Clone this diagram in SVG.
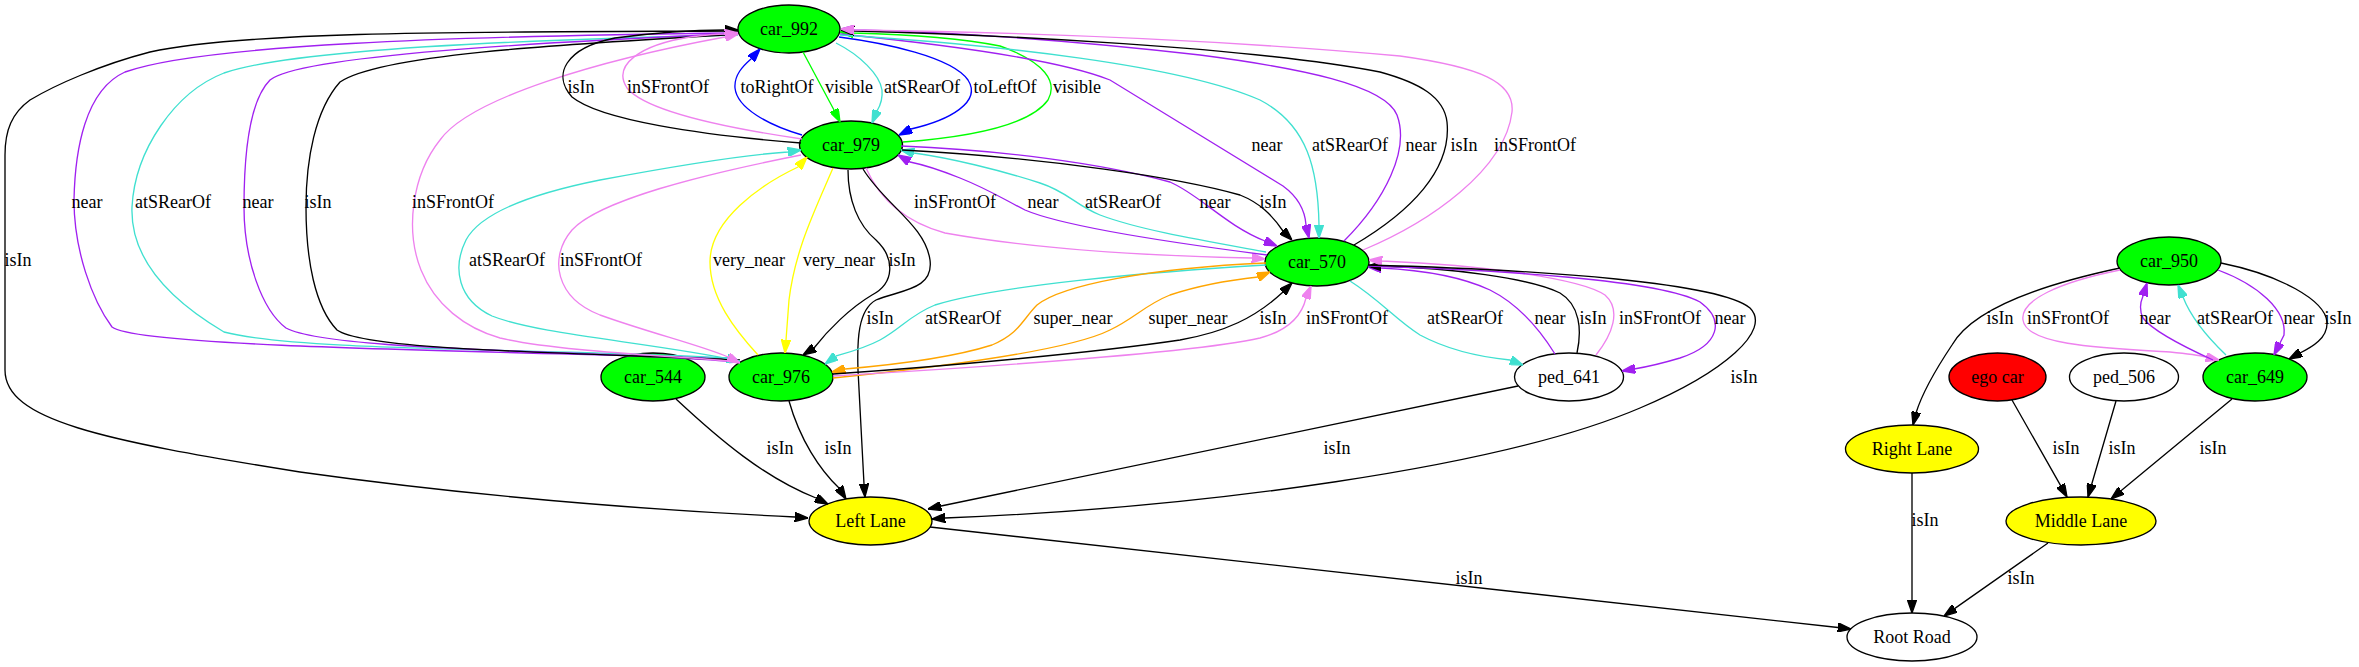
<svg xmlns="http://www.w3.org/2000/svg" width="2359" height="667" viewBox="0 0 2359 667">
<style>
text{font-family:"Liberation Serif","Times New Roman",serif;font-size:18px;text-anchor:middle;fill:#000}
.n{stroke:#000;stroke-width:1.33}
.g{fill:#00ff00}.y{fill:#ffff00}.r{fill:#ff0000}.w{fill:#fff}
.e{fill:none;stroke-width:1.33}
.k{stroke:#000;marker-end:url(#ak)}
.p{stroke:#a020f0;marker-end:url(#ap)}
.t{stroke:#40e0d0;marker-end:url(#at)}
.v{stroke:#ee82ee;marker-end:url(#av)}
.b{stroke:#0000ff;marker-end:url(#ab)}
.gr{stroke:#00ff00;marker-end:url(#ag)}
.ye{stroke:#ffff00;marker-end:url(#ay)}
.o{stroke:#ffa500;marker-end:url(#ao)}
</style>
<defs>
<marker id="ak" viewBox="0 0 10 7" refX="10" refY="3.5" markerWidth="13.3" markerHeight="9.3" markerUnits="userSpaceOnUse" orient="auto"><path d="M0,0L10,3.5L0,7z" fill="#000" stroke="#000"/></marker>
<marker id="ap" viewBox="0 0 10 7" refX="10" refY="3.5" markerWidth="13.3" markerHeight="9.3" markerUnits="userSpaceOnUse" orient="auto"><path d="M0,0L10,3.5L0,7z" fill="#a020f0" stroke="#a020f0"/></marker>
<marker id="at" viewBox="0 0 10 7" refX="10" refY="3.5" markerWidth="13.3" markerHeight="9.3" markerUnits="userSpaceOnUse" orient="auto"><path d="M0,0L10,3.5L0,7z" fill="#40e0d0" stroke="#40e0d0"/></marker>
<marker id="av" viewBox="0 0 10 7" refX="10" refY="3.5" markerWidth="13.3" markerHeight="9.3" markerUnits="userSpaceOnUse" orient="auto"><path d="M0,0L10,3.5L0,7z" fill="#ee82ee" stroke="#ee82ee"/></marker>
<marker id="ab" viewBox="0 0 10 7" refX="10" refY="3.5" markerWidth="13.3" markerHeight="9.3" markerUnits="userSpaceOnUse" orient="auto"><path d="M0,0L10,3.5L0,7z" fill="#0000ff" stroke="#0000ff"/></marker>
<marker id="ag" viewBox="0 0 10 7" refX="10" refY="3.5" markerWidth="13.3" markerHeight="9.3" markerUnits="userSpaceOnUse" orient="auto"><path d="M0,0L10,3.5L0,7z" fill="#00ff00" stroke="#00ff00"/></marker>
<marker id="ay" viewBox="0 0 10 7" refX="10" refY="3.5" markerWidth="13.3" markerHeight="9.3" markerUnits="userSpaceOnUse" orient="auto"><path d="M0,0L10,3.5L0,7z" fill="#ffff00" stroke="#ffff00"/></marker>
<marker id="ao" viewBox="0 0 10 7" refX="10" refY="3.5" markerWidth="13.3" markerHeight="9.3" markerUnits="userSpaceOnUse" orient="auto"><path d="M0,0L10,3.5L0,7z" fill="#ffa500" stroke="#ffa500"/></marker>
</defs>
<rect width="2359" height="667" fill="#fff"/>
<g id="nodes">
<g id="car_992"><ellipse class="n g" cx="789" cy="29" rx="51" ry="24"/><text x="789" y="35">car_992</text></g>
<g id="car_979"><ellipse class="n g" cx="851" cy="145" rx="51.5" ry="24"/><text x="851" y="151">car_979</text></g>
<g id="car_570"><ellipse class="n g" cx="1317" cy="262" rx="52" ry="24"/><text x="1317" y="268">car_570</text></g>
<g id="car_544"><ellipse class="n g" cx="653" cy="377" rx="52" ry="24"/><text x="653" y="383">car_544</text></g>
<g id="car_976"><ellipse class="n g" cx="781" cy="377" rx="52" ry="24"/><text x="781" y="383">car_976</text></g>
<g id="ped_641"><ellipse class="n w" cx="1569" cy="377" rx="54.5" ry="24"/><text x="1569" y="383">ped_641</text></g>
<g id="left_lane"><ellipse class="n y" cx="870.5" cy="521" rx="61.5" ry="24"/><text x="870.5" y="527">Left Lane</text></g>
<g id="car_950"><ellipse class="n g" cx="2169" cy="261" rx="52" ry="24"/><text x="2169" y="267">car_950</text></g>
<g id="ego_car"><ellipse class="n r" cx="1997.5" cy="377" rx="48.5" ry="24"/><text x="1997.5" y="383">ego car</text></g>
<g id="ped_506"><ellipse class="n w" cx="2124" cy="377" rx="54.5" ry="24"/><text x="2124" y="383">ped_506</text></g>
<g id="car_649"><ellipse class="n g" cx="2255" cy="377" rx="52" ry="24"/><text x="2255" y="383">car_649</text></g>
<g id="right_lane"><ellipse class="n y" cx="1912" cy="449" rx="66.5" ry="24"/><text x="1912" y="455">Right Lane</text></g>
<g id="middle_lane"><ellipse class="n y" cx="2081" cy="521" rx="75" ry="24"/><text x="2081" y="527">Middle Lane</text></g>
<g id="root_road"><ellipse class="n w" cx="1912" cy="637" rx="65" ry="24"/><text x="1912" y="643">Root Road</text></g>
</g>
<g id="edges">
<path class="e k" d="M738,31 C500,32 250,30 150,52 C100,65 55,85 30,100 C12,113 5,130 5,155 L5,370 C5,420 100,440 300,472 C500,500 690,512 795,517 L808,518"/>
<path class="e p" d="M738,33 C450,36 200,45 125,72 C85,90 75,150 74,200 C74,250 92,300 112,327 C135,345 400,350 727,358 L740,362"/>
<path class="e t" d="M738,35 C500,40 290,50 224,73 C175,92 135,150 132,207 C130,260 170,300 224,332 C300,352 550,348 727,358 L740,362"/>
<path class="e p" d="M740,362 C600,350 330,352 286,328 C262,310 244,260 244,207 C244,150 250,100 270,80 C300,55 550,42 725,34 L738,33"/>
<path class="e k" d="M740,360 C550,352 365,350 337,330 C315,307 306,260 306,207 C306,160 315,110 340,82 C380,55 550,45 725,35 L738,33"/>
<path class="e v" d="M740,362 C680,356 560,352 500,338 C465,328 435,305 421,270 C405,230 412,175 440,140 C470,98 600,60 725,37 L738,34"/>
<path class="e k" d="M801,143 C700,135 600,120 572,97 C552,75 565,48 615,38 C660,32 700,30 725,30 L738,30"/>
<path class="e v" d="M802,139 C720,127 645,110 627,88 C612,65 640,45 690,37 C705,35 715,34 725,34 L738,33"/>
<path class="e b" d="M802,135 C768,125 737,108 735,88 C734,75 743,66 751,59 L760,49"/>
<path class="e gr" d="M803,52 L834,110 L840,122"/>
<path class="e t" d="M836,43 C860,55 880,75 882,90 C883,100 880,106 877,111 L872,123"/>
<path class="e b" d="M839,37 C885,43 952,57 968,80 C982,102 950,120 911,129 L899,135"/>
<path class="e gr" d="M903,142 C970,137 1030,125 1048,100 C1058,82 1045,62 1000,46 C950,36 890,34 853,33 L840,32"/>
<path class="e p" d="M840,34 C950,45 1060,60 1110,80 L1283,186 C1298,197 1305,210 1306,225 L1309,238"/>
<path class="e t" d="M840,35 C1000,45 1180,65 1260,100 C1308,125 1318,170 1319,225 L1319,238"/>
<path class="e p" d="M1344,241 C1385,200 1410,150 1397,115 C1385,85 1300,68 1200,55 C1050,38 950,32 855,30 L841,29"/>
<path class="e k" d="M1354,245 C1410,212 1452,170 1447,122 C1444,97 1420,83 1380,72 C1250,47 1000,35 855,31 L841,30"/>
<path class="e v" d="M1363,250 C1430,222 1505,170 1512,112 C1515,82 1480,67 1400,56 C1200,38 1000,32 855,30 L841,29"/>
<path class="e v" d="M866,168 C880,200 905,222 945,233 C1040,250 1150,256 1252,258 L1265,259"/>
<path class="e p" d="M1267,255 C1150,240 1060,225 1025,210 C1005,200 990,190 960,178 C940,170 925,165 910,162 L898,155"/>
<path class="e t" d="M1266,252 C1200,240 1140,230 1100,215 C1075,205 1068,192 1040,183 C1000,170 950,158 914,153 L901,150"/>
<path class="e p" d="M901,146 C1000,150 1100,163 1170,182 C1200,195 1225,225 1265,241 L1277,246"/>
<path class="e k" d="M902,150 C1050,158 1180,178 1240,195 C1260,203 1272,215 1283,231 L1292,240"/>
<path class="e t" d="M740,361 C650,342 540,335 492,316 C458,300 452,268 466,240 C482,210 540,192 600,180 C680,165 740,155 788,152 L801,150"/>
<path class="e v" d="M801,155 C700,175 600,200 572,230 C548,258 556,298 600,315 C650,333 700,345 728,357 L740,363"/>
<path class="e ye" d="M758,355 C735,330 710,298 710,262 C710,220 760,185 798,167 L807,157"/>
<path class="e ye" d="M833,168 C815,210 795,250 789,300 L786,340 L785,353"/>
<path class="e k" d="M848,170 C848,200 858,225 876,240 C895,258 895,283 872,295 C850,308 828,330 814,348 L803,355"/>
<path class="e k" d="M863,169 C885,205 925,225 930,260 C934,290 900,290 876,300 C858,310 857,340 858,370 L864,484 L865,497"/>
<path class="e t" d="M1266,265 C1150,272 1000,285 935,305 C910,315 902,328 880,340 C865,348 850,352 836,356 L825,364"/>
<path class="e o" d="M1266,263 C1150,268 1062,285 1037,305 C1022,320 1020,333 992,345 C945,360 880,366 845,369 L832,372"/>
<path class="e o" d="M833,378 C950,366 1070,350 1110,330 C1135,318 1145,305 1170,295 C1200,285 1230,280 1258,277 L1270,272"/>
<path class="e k" d="M833,374 C950,366 1100,352 1180,340 C1225,332 1255,318 1283,292 L1292,283"/>
<path class="e v" d="M833,376 C1000,366 1200,352 1260,338 C1290,330 1302,315 1306,298 L1311,286"/>
<path class="e t" d="M1350,281 C1380,300 1396,320 1420,335 C1448,350 1480,357 1510,360 L1523,365"/>
<path class="e p" d="M1555,354 C1540,330 1520,305 1490,290 C1460,276 1420,270 1381,268 L1368,267"/>
<path class="e k" d="M1577,353 C1582,330 1580,305 1560,293 C1530,278 1450,268 1381,266 L1368,266"/>
<path class="e v" d="M1596,355 C1612,335 1622,310 1605,295 C1580,278 1480,265 1382,261 L1369,260"/>
<path class="e p" d="M1368,266 C1500,270 1660,280 1700,302 C1725,320 1720,345 1680,358 C1660,364 1646,367 1634,369 L1622,371"/>
<path class="e k" d="M1368,265 C1550,270 1720,283 1750,308 C1772,330 1725,372 1640,408 C1500,468 1200,508 945,518 L932,519"/>
<path class="e k" d="M1518,386 L941,506 L928,509"/>
<path class="e k" d="M676,399 C720,440 765,478 816,498 L828,504"/>
<path class="e k" d="M789,401 C800,440 820,470 839,488 L846,499"/>
<path class="e k" d="M930,527 L1838,627.5 L1851,629"/>
<path class="e k" d="M2120,268 C2040,285 1972,310 1952,345 C1932,375 1920,400 1916,413 L1913,425"/>
<path class="e v" d="M2120,270 C2060,282 2020,300 2023,320 C2026,345 2100,348 2170,352 C2190,354 2198,355 2206,357 L2219,360"/>
<path class="e p" d="M2213,360 C2180,345 2152,330 2143,318 C2139,310 2140,303 2143,296 L2147,283"/>
<path class="e t" d="M2226,355 C2205,335 2190,315 2183,297 L2178,285"/>
<path class="e p" d="M2218,270 C2258,285 2287,310 2284,335 L2279,345 L2274,355"/>
<path class="e k" d="M2221,263 C2280,275 2325,300 2327,322 C2328,338 2312,347 2300,353 L2289,359"/>
<path class="e k" d="M2012,400 L2060.5,485.4 L2067,497"/>
<path class="e k" d="M2116,401 L2091.7,484.2 L2088,497"/>
<path class="e k" d="M2232,399 L2121.3,490.6 L2111,499"/>
<path class="e k" d="M1912,473 L1912,600 L1912,613"/>
<path class="e k" d="M2048,543 L1954.9,608.4 L1944,616"/>
<g id="edge-labels">
<text x="581" y="93">isIn</text>
<text x="668" y="93">inSFrontOf</text>
<text x="777" y="93">toRightOf</text>
<text x="849" y="93">visible</text>
<text x="922" y="93">atSRearOf</text>
<text x="1005" y="93">toLeftOf</text>
<text x="1077" y="93">visible</text>
<text x="1267" y="151">near</text>
<text x="1350" y="151">atSRearOf</text>
<text x="1421" y="151">near</text>
<text x="1464" y="151">isIn</text>
<text x="1535" y="151">inSFrontOf</text>
<text x="87" y="208">near</text>
<text x="173" y="208">atSRearOf</text>
<text x="258" y="208">near</text>
<text x="318" y="208">isIn</text>
<text x="453" y="208">inSFrontOf</text>
<text x="955" y="208">inSFrontOf</text>
<text x="1043" y="208">near</text>
<text x="1123" y="208">atSRearOf</text>
<text x="1215" y="208">near</text>
<text x="1273" y="208">isIn</text>
<text x="18" y="266">isIn</text>
<text x="507" y="266">atSRearOf</text>
<text x="601" y="266">inSFrontOf</text>
<text x="749" y="266">very_near</text>
<text x="839" y="266">very_near</text>
<text x="902" y="266">isIn</text>
<text x="880" y="324">isIn</text>
<text x="963" y="324">atSRearOf</text>
<text x="1073" y="324">super_near</text>
<text x="1188" y="324">super_near</text>
<text x="1273" y="324">isIn</text>
<text x="1347" y="324">inSFrontOf</text>
<text x="1465" y="324">atSRearOf</text>
<text x="1550" y="324">near</text>
<text x="1593" y="324">isIn</text>
<text x="1660" y="324">inSFrontOf</text>
<text x="1730" y="324">near</text>
<text x="1744" y="383">isIn</text>
<text x="2000" y="324">isIn</text>
<text x="2068" y="324">inSFrontOf</text>
<text x="2155" y="324">near</text>
<text x="2235" y="324">atSRearOf</text>
<text x="2299" y="324">near</text>
<text x="2338" y="324">isIn</text>
<text x="780" y="454">isIn</text>
<text x="838" y="454">isIn</text>
<text x="1337" y="454">isIn</text>
<text x="2066" y="454">isIn</text>
<text x="2122" y="454">isIn</text>
<text x="2213" y="454">isIn</text>
<text x="1925" y="526">isIn</text>
<text x="1469" y="584">isIn</text>
<text x="2021" y="584">isIn</text>
</g>
</g>
</svg>
